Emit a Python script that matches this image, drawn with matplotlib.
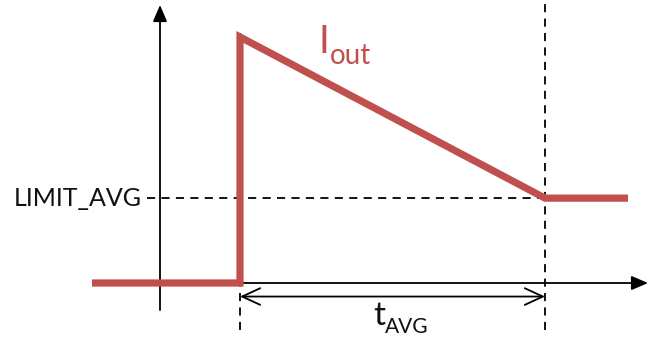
import matplotlib
matplotlib.use("Agg")
import matplotlib.pyplot as plt

# Output current waveform (time in arbitrary units, current normalised to peak)
t_wave = [-0.68, 0.80, 0.80, 3.85, 4.68]
i_wave = [0.0, 0.0, 1.0, 0.345, 0.345]

t_step = 0.80        # current step
t_end = 3.85         # end of averaging window
limit_avg = 0.345    # LIMIT_AVG level

RED = "#c0504d"
FONT = ["Lato", "DejaVu Sans"]

fig = plt.figure(figsize=(6.48, 3.39), dpi=100)
ax = fig.add_axes([0, 0, 1, 1])
ax.set_xlim(-1.60, 4.88)
ax.set_ylim(-0.2276, 1.1504)
ax.axis("off")

# axes with arrow heads
head = "-|>,head_length=1.0,head_width=0.43"
ax.annotate("", xy=(0, 1.13), xytext=(0, -0.11),
            arrowprops=dict(arrowstyle=head, color="black", lw=1.3,
                            shrinkA=0, shrinkB=0))
ax.annotate("", xy=(4.88, 0), xytext=(-0.6, 0),
            arrowprops=dict(arrowstyle=head, color="black", lw=1.3,
                            shrinkA=0, shrinkB=0))

# dashed guides
dash = dict(color="black", lw=1.3, linestyle=(0, (4.5, 3.5)))
ax.plot([t_step, t_step], [-0.19, 1.04], **dash)
ax.plot([t_end, t_end], [-0.19, 1.15], **dash)
ax.plot([-0.13, t_end], [limit_avg, limit_avg], **dash)

# waveform
ax.plot(t_wave, i_wave, color=RED, lw=5.2, solid_joinstyle="miter",
        solid_capstyle="butt", zorder=3)

# averaging window
ax.annotate("", xy=(t_end, -0.055), xytext=(t_step, -0.055),
            arrowprops=dict(arrowstyle="<->,head_length=1.3,head_width=0.6",
                            color="black", lw=1.3, shrinkA=0, shrinkB=0))

# labels
ax.text(-0.18, limit_avg, "LIMIT_AVG", fontsize=18, family=FONT,
        ha="right", va="center", color="#111111")
ax.text(1.59, 0.935, "I", fontsize=28, family=FONT, ha="left",
        va="baseline", color=RED)
ax.text(1.695, 0.89, "out", fontsize=20, family=FONT, ha="left",
        va="baseline", color=RED)
ax.text(2.13, -0.17, "t", fontsize=24, family=FONT, ha="left",
        va="baseline", color="#111111")
ax.text(2.25, -0.205, "AVG", fontsize=15, family=FONT, ha="left",
        va="baseline", color="#111111")

fig.savefig("out.png", dpi=100)
